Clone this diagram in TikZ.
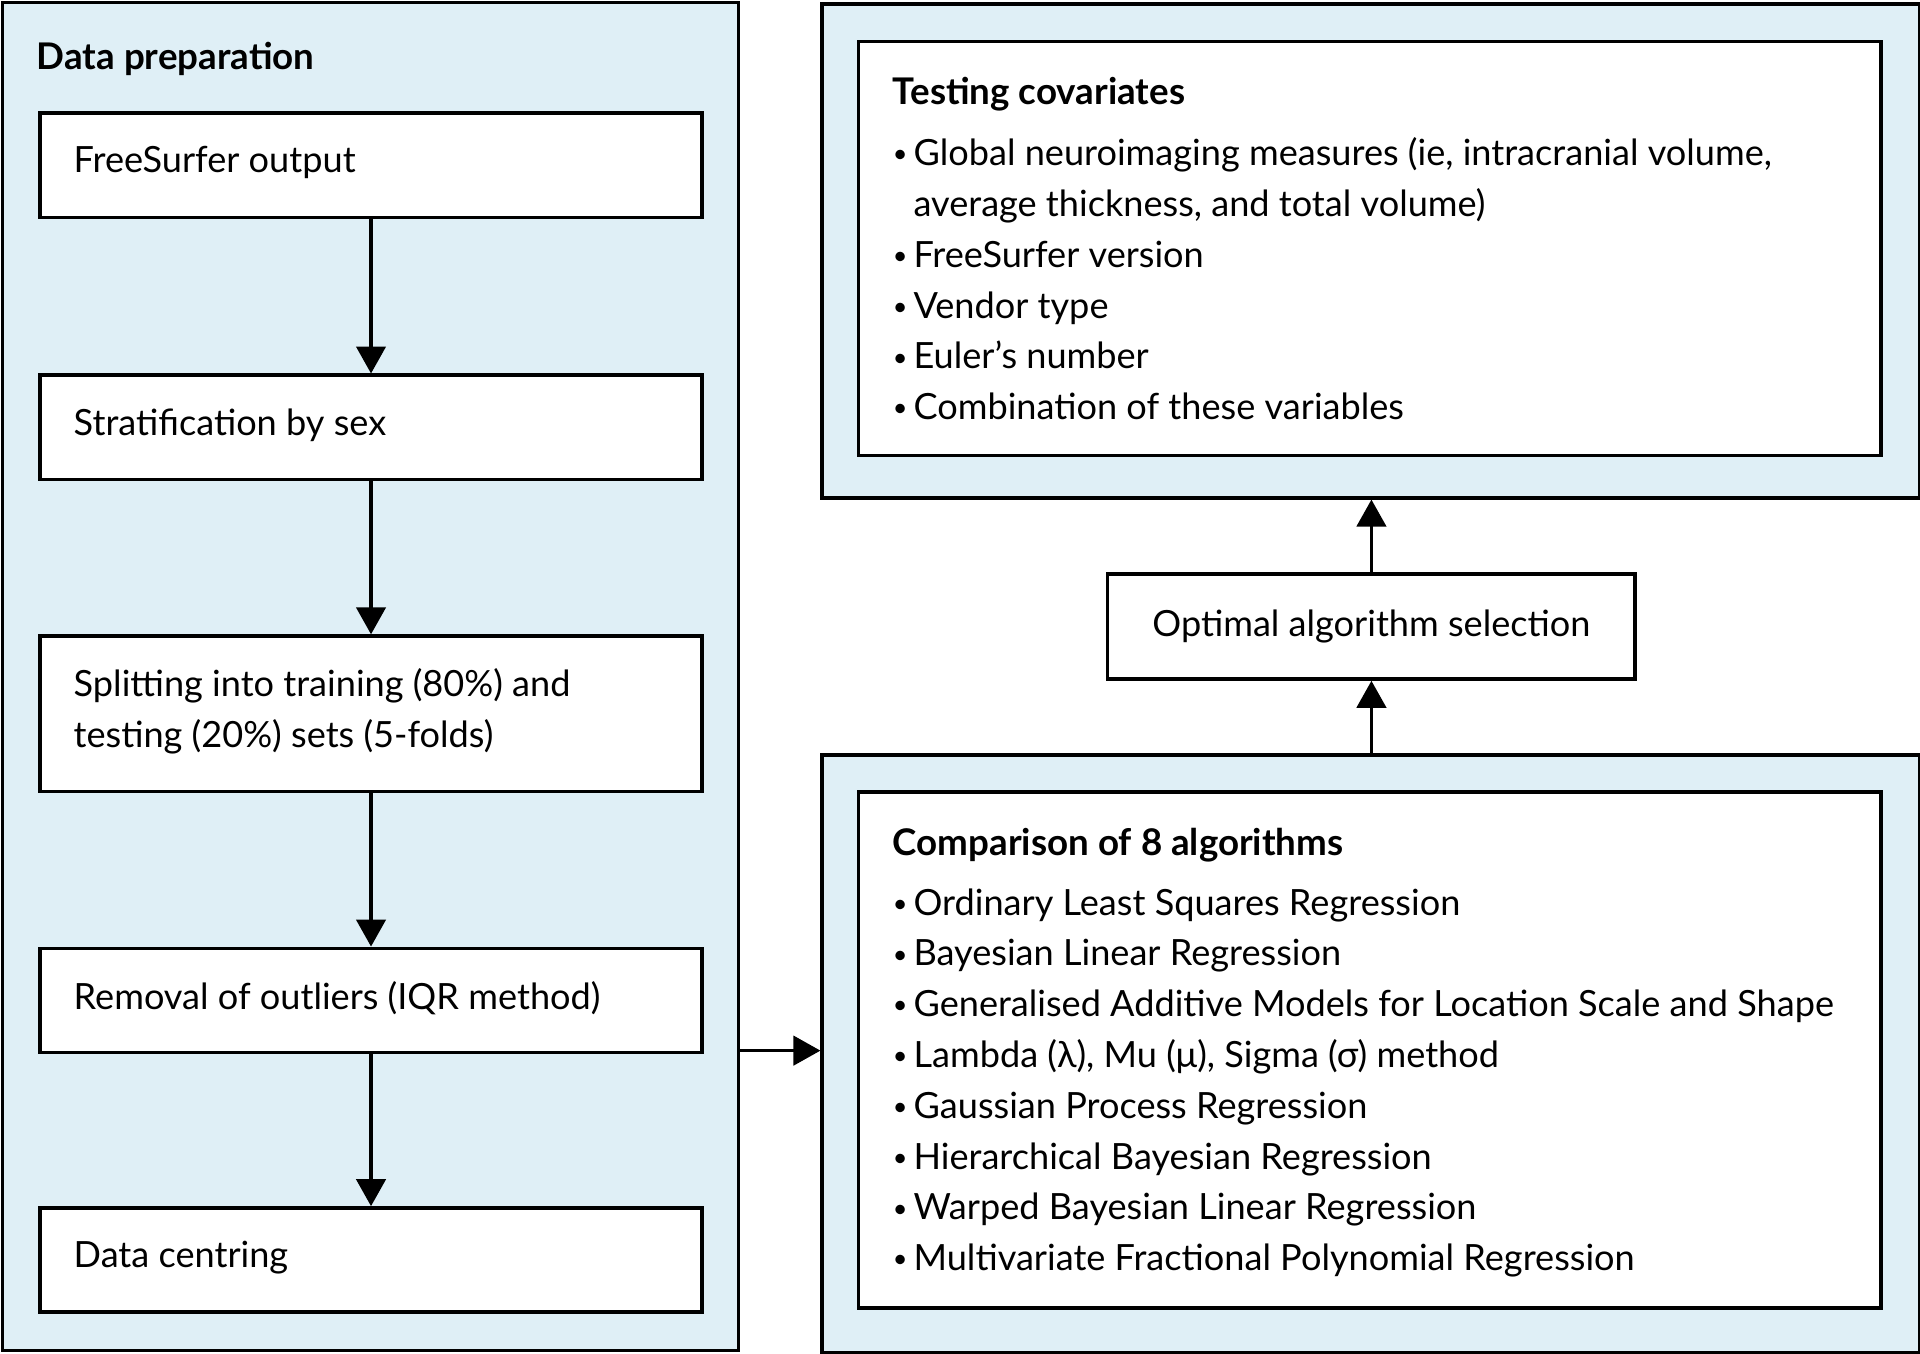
\documentclass[tikz,border=0pt]{standalone}
\usepackage{fontspec}
\setmainfont{Lato}
\usetikzlibrary{arrows.meta}
\definecolor{panel}{HTML}{DFEFF6}
\newcommand{\bul}{\raisebox{0.15ex}{\scalebox{0.7}{•}}}
\begin{document}
\begin{tikzpicture}[x=1pt,y=-1pt,
  panelbox/.style={draw=black,line width=3pt,fill=panel},
  wbox/.style={draw=black,line width=3pt,fill=white},
  arr/.style={line width=2.5pt,-{Triangle[length=22pt,width=24pt]}},
  txt/.style={font=\fontsize{29.5}{41.5}\selectfont,inner sep=0pt,anchor=north west,align=left}]
\useasboundingbox (0,0) rectangle (1568,1105);
\fill[white] (0,0) rectangle (1568,1105);
% left panel
\draw[panelbox] (2,2) rectangle (603,1103);
\node[txt,font=\fontsize{30}{34}\selectfont\bfseries,anchor=west] (lt) at (30,48) {Data preparation};
\node[wbox,minimum width=541pt,minimum height=85pt,anchor=north west] (b1) at (31,91) {};
\node[txt,anchor=west] at (60,133) {FreeSurfer output};
\node[wbox,minimum width=541pt,minimum height=85pt,anchor=north west] (b2) at (31,305) {};
\node[txt,anchor=west] at (60,347) {Stratification by sex};
\node[wbox,minimum width=541pt,minimum height=127pt,anchor=north west] (b3) at (31,518) {};
\node[txt,anchor=west] at (60,581) {Splitting into training (80\%) and\\testing (20\%) sets (5-folds)};
\node[wbox,minimum width=541pt,minimum height=85pt,anchor=north west] (b4) at (31,773) {};
\node[txt,anchor=west] at (60,815) {Removal of outliers (IQR method)};
\node[wbox,minimum width=541pt,minimum height=85pt,anchor=north west] (b5) at (31,985) {};
\node[txt,anchor=west] at (60,1027) {Data centring};
\draw[arr] (b1.south) -- (b2.north);
\draw[arr] (b2.south) -- (b3.north);
\draw[arr] (b3.south) -- (b4.north);
\draw[arr] (b4.south) -- (b5.north);
% right top
\node[panelbox,minimum width=896pt,minimum height=403pt,anchor=north west,inner sep=0pt] (tp) at (670,2) {};
\draw[wbox] (701,34) rectangle (1536,372);
\node[txt,font=\fontsize{30}{34}\selectfont\bfseries,anchor=west] at (729,77) {Testing covariates};
\node[txt] at (729,106) {\begin{tabular}{@{}l@{\,}l@{}}
\bul&Global neuroimaging measures (ie, intracranial volume,\\
&average thickness, and total volume)\\
\bul&FreeSurfer version\\
\bul&Vendor type\\
\bul&Euler’s number\\
\bul&Combination of these variables
\end{tabular}};
% optimal
\node[wbox,minimum width=431pt,minimum height=86pt,anchor=north west] (opt) at (903,467) {};
\node[txt,anchor=center] at (opt.center) {Optimal algorithm selection};
% right bottom
\node[panelbox,minimum width=896pt,minimum height=488pt,anchor=north west,inner sep=0pt] (bp) at (670,615) {};
\draw[wbox] (701,647) rectangle (1536,1068);
\node[txt,font=\fontsize{30}{34}\selectfont\bfseries,anchor=west] at (729,690) {Comparison of 8 algorithms};
\node[txt] at (729,718) {\begin{tabular}{@{}l@{\,}l@{}}
\bul&Ordinary Least Squares Regression\\
\bul&Bayesian Linear Regression\\
\bul&Generalised Additive Models for Location Scale and Shape\\
\bul&Lambda (λ), Mu (μ), Sigma (σ) method\\
\bul&Gaussian Process Regression\\
\bul&Hierarchical Bayesian Regression\\
\bul&Warped Bayesian Linear Regression\\
\bul&Multivariate Fractional Polynomial Regression
\end{tabular}};
\coordinate (lp) at (603,858);
\draw[arr] (lp) -- (bp.west |- lp);
\draw[arr] (bp.north -| opt.south) -- (opt.south);
\draw[arr] (opt.north) -- (tp.south -| opt.north);
\end{tikzpicture}
\end{document}
